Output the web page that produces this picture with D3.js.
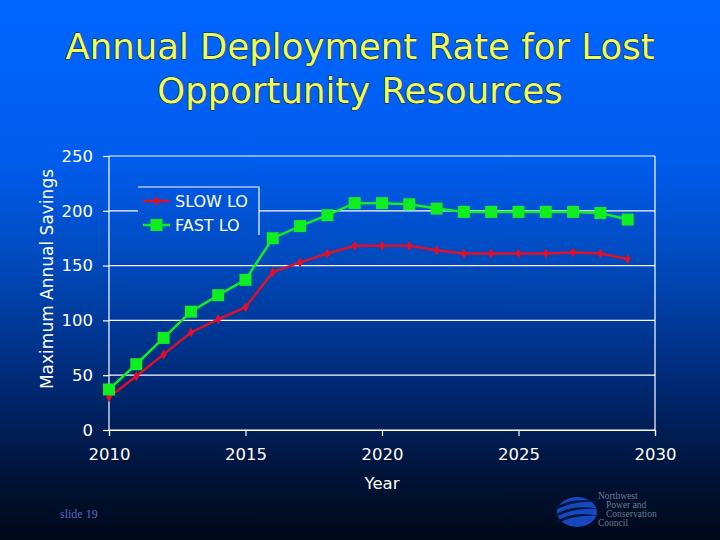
<!DOCTYPE html>
<html><head><meta charset="utf-8">
<script src="https://cdn.jsdelivr.net/npm/d3@7"></script>
<style>html,body{margin:0;padding:0;background:#001030;}svg{display:block;}</style>
</head><body>
<script>
const years = [2010,2011,2012,2013,2014,2015,2016,2017,2018,2019,2020,2021,2022,2023,2024,2025,2026,2027,2028,2029];
const slowLO = [30,49,69,89,101,112,144,153,161,168,168,168,164,161,161,161,161,162,161,156];
const fastLO = [37,60,84,108,123,137,175,186,196,207,207,206,202,199,199,199,199,199,198,192];
const seriesNames = ["SLOW LO","FAST LO"];
const xTicks = [2010,2015,2020,2025,2030];
const yTicks = [0,50,100,150,200,250];
const titleLines = ["Annual Deployment Rate for Lost","Opportunity Resources"];
const logoLines = ["Northwest","Power and","Conservation","Council"];

const W=720,H=540;
const svg=d3.select("body").append("svg").attr("width",W).attr("height",H);
const defs=svg.append("defs");
const g=defs.append("linearGradient").attr("id","bg").attr("gradientUnits","userSpaceOnUse")
  .attr("x1",0).attr("y1",0).attr("x2",0).attr("y2",H);
[[0,"#0066ff"],[0.3,"#005cec"],[0.5,"#0048b8"],[0.7,"#002a78"],[0.88,"#001338"],[1,"#000818"]]
  .forEach(([o,c])=>g.append("stop").attr("offset",o).attr("stop-color",c));
svg.append("rect").attr("width",W).attr("height",H).attr("fill","url(#bg)");

const font="DejaVu Sans, Verdana, sans-serif";
// title
svg.append("g").selectAll("text").data(titleLines).join("text")
  .attr("x",360).attr("y",(d,i)=>59+i*44).attr("text-anchor","middle")
  .attr("font-family",font).attr("font-size",35.5).attr("fill","#eeff5a")
  .attr("stroke","#1a2640").attr("stroke-width",1.2).attr("paint-order","stroke")
  .text(d=>d);

const L=109,R=655,T=156,B=430;
const x=d3.scaleLinear().domain([2010,2030]).range([L,R]);
const y=d3.scaleLinear().domain([0,250]).range([B,T]);

// gridlines
svg.append("g").selectAll("line").data(yTicks).join("line")
  .attr("x1",L).attr("x2",R).attr("y1",d=>y(d)).attr("y2",d=>y(d))
  .attr("stroke","#ffffff").attr("stroke-width",1.2);
svg.append("line").attr("x1",R).attr("x2",R).attr("y1",T).attr("y2",B).attr("stroke","#fff").attr("stroke-width",1.2);

// axes
const yAxis=svg.append("g").attr("transform",`translate(${L},0)`)
  .call(d3.axisLeft(y).tickValues(yTicks).tickSize(6).tickPadding(10));
const xAxis=svg.append("g").attr("transform",`translate(0,${B})`)
  .call(d3.axisBottom(x).tickValues(xTicks).tickFormat(d3.format("d")).tickSize(6).tickPadding(12));
[yAxis,xAxis].forEach(a=>{
  a.selectAll("path,line").attr("stroke","#fff").attr("stroke-width",1.2);
  a.selectAll("text").attr("fill","#fff").attr("font-family",font).attr("font-size",16.5);
});
yAxis.select(".domain").attr("d",`M0,${T}V${B}`);

svg.append("text").attr("x",382).attr("y",489).attr("text-anchor","middle")
  .attr("font-family",font).attr("font-size",16.5).attr("fill","#fff").text("Year");
svg.append("text").attr("transform","translate(53,279) rotate(-90)").attr("text-anchor","middle")
  .attr("font-family",font).attr("font-size",17).attr("fill","#fff").text("Maximum Annual Savings");

// lines
const line=d3.line().x((d,i)=>x(years[i])).y(d=>y(d));
const red="#e0102a", green="#10ee20";
svg.append("path").datum(slowLO).attr("d",line).attr("fill","none").attr("stroke",red).attr("stroke-width",2.5);
svg.append("g").selectAll("path").data(slowLO).join("path")
  .attr("transform",(d,i)=>`translate(${x(years[i])},${y(d)})`)
  .attr("d",d3.symbol(d3.symbolDiamond,30)).attr("fill",red);
svg.append("path").datum(fastLO).attr("d",line).attr("fill","none").attr("stroke",green).attr("stroke-width",2.5);
svg.append("g").selectAll("rect").data(fastLO).join("rect")
  .attr("x",(d,i)=>x(years[i])-6).attr("y",d=>y(d)-6).attr("width",12).attr("height",12).attr("fill",green);

// legend
const lg=svg.append("g");
lg.append("rect").attr("x",138).attr("y",187).attr("width",121).attr("height",48).attr("fill","url(#bg)");
lg.append("path").attr("d","M138,187H259V235").attr("fill","none").attr("stroke","#fff").attr("stroke-width",1.2);
const items=[{n:seriesNames[0],c:red,m:"d"},{n:seriesNames[1],c:green,m:"s"}];
items.forEach((it,i)=>{
  const yy=201+i*24;
  lg.append("line").attr("x1",143).attr("x2",170).attr("y1",yy).attr("y2",yy).attr("stroke",it.c).attr("stroke-width",2.5);
  if(it.m==="d") lg.append("path").attr("transform",`translate(156.5,${yy})`).attr("d",d3.symbol(d3.symbolDiamond,30)).attr("fill",it.c);
  else lg.append("rect").attr("x",150.5).attr("y",yy-6).attr("width",12).attr("height",12).attr("fill",it.c);
  lg.append("text").attr("x",175).attr("y",yy+6).attr("font-family",font).attr("font-size",16).attr("fill","#fff").text(it.n);
});

// footer
svg.append("text").attr("x",60).attr("y",518).attr("font-family","Liberation Serif, Times New Roman, serif")
  .attr("font-size",12).attr("fill","#5868c0").text("slide 19");
const logo=svg.append("g").attr("transform","translate(577,512)");
logo.append("ellipse").attr("rx",20).attr("ry",15).attr("fill","#1848c0");
[-8,-1,6].forEach((o,i)=>{
  logo.append("path").attr("d",`M-22,${o+4} Q-4,${o-8} 22,${o-2} Q-2,${o-4} -22,${o+6}Z`).attr("fill","#001840");
});
svg.append("g").selectAll("text").data(logoLines).join("text")
  .attr("x",(d,i)=>[598,606,606,598][i]).attr("y",(d,i)=>499+i*9)
  .attr("font-family","Liberation Serif, Times New Roman, serif").attr("font-size",9.5)
  .attr("fill","#6a7890").text(d=>d);
</script>
</body></html>
